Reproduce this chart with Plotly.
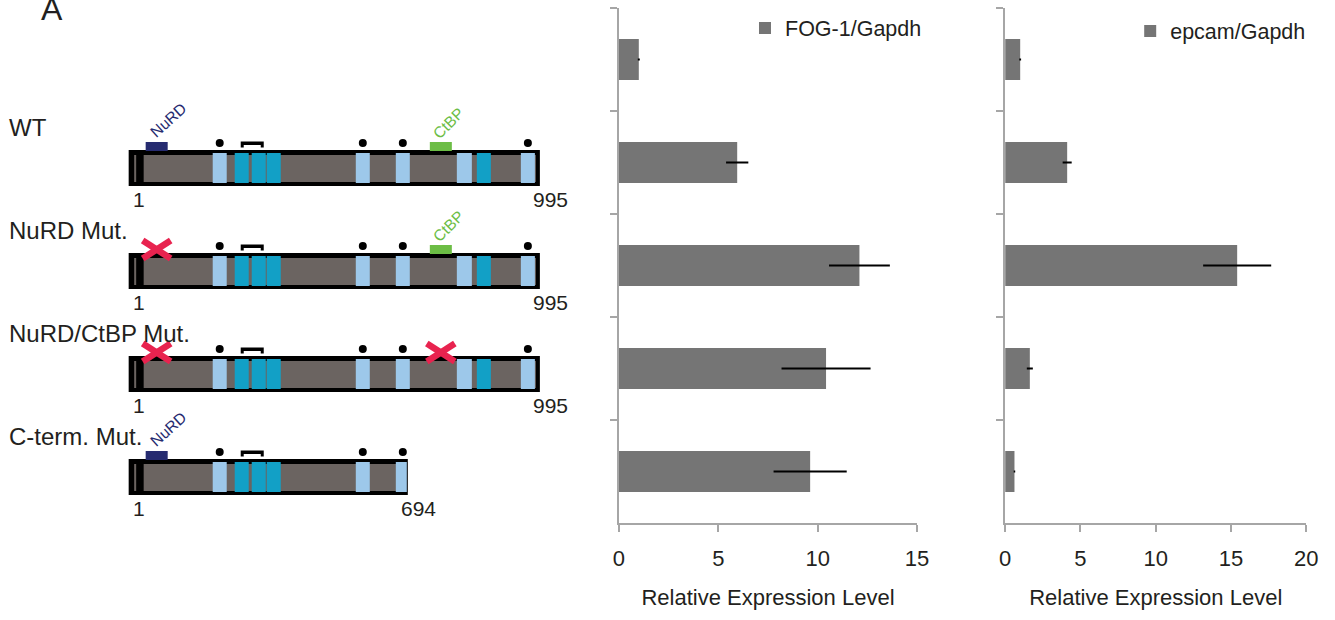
import plotly.graph_objects as go

# ---- expression measurements (mean relative to Gapdh, error = SD) ----
samples = ["Control", "WT", "NuRD Mut.", "NuRD/CtBP Mut.", "C-term. Mut."]
fog1_mean = [1.0, 5.95, 12.1, 10.42, 9.62]
fog1_err = [0.05, 0.56, 1.53, 2.24, 1.84]
epcam_mean = [1.0, 4.12, 15.41, 1.64, 0.62]
epcam_err = [0.06, 0.30, 2.26, 0.20, 0.05]
fog1_ticks = [0, 5, 10, 15]
epcam_ticks = [0, 5, 10, 15, 20]

# ---- construct schematic (schematic units along the protein) ----
constructs = ["WT", "NuRD Mut.", "NuRD/CtBP Mut.", "C-term. Mut."]
construct_length = [995, 995, 995, 694]
construct_end = [536, 536, 536, 406]          # right end of each drawn protein
nurd_state = ["site", "mutated", "mutated", "site"]
ctbp_state = ["site", "site", "mutated", None]
light_fingers = [(213, 227), (356, 370), (396, 410), (457, 472), (521, 535)]
dark_fingers = [(235, 249), (252, 266), (267, 281), (477, 491)]
finger_dots = [220, 363, 403, 528]
bracket_span = (241, 264)
nurd_box = (146, 168)
ctbp_box = (430, 452)

W, H = 1335, 620
# horizontal drawing frame of the page (left offset, usable width)
FRAME_X0, FRAME_W = 6.4, 1316.3

def fx(px):
    """Paper fraction for a horizontal page position."""
    return (px - FRAME_X0) / FRAME_W

FONT = "Liberation Sans, Arial, sans-serif"
TEXT = "#231f20"
AXIS_GREY = "#a6a6a6"
BAR_GREY = "#757575"
PROTEIN_GREY = "#6b6461"
LIGHT_BLUE = "#9dc8ea"
DARK_BLUE = "#12a0c6"
NAVY = "#262b70"
GREEN = "#6cbd45"
RED = "#e8234f"

fig = go.Figure()

# ---- bar charts ----
fig.add_trace(go.Bar(
    y=samples, x=fog1_mean, orientation="h", name="FOG-1/Gapdh",
    marker=dict(color=BAR_GREY, line=dict(width=0)),
    error_x=dict(type="data", array=fog1_err, color="black", thickness=2, width=0),
    xaxis="x", yaxis="y", legend="legend", hoverinfo="x",
))
fig.add_trace(go.Bar(
    y=samples, x=epcam_mean, orientation="h", name="epcam/Gapdh",
    marker=dict(color=BAR_GREY, line=dict(width=0)),
    error_x=dict(type="data", array=epcam_err, color="black", thickness=2, width=0),
    xaxis="x2", yaxis="y2", legend="legend2", hoverinfo="x",
))

plot_top, plot_bottom = 8, 523
ydom = [1 - plot_bottom / H, 1 - plot_top / H]

def value_axis(x0, x1, rng, ticks):
    return dict(
        domain=[fx(x0), fx(x1)], range=rng, tickvals=ticks,
        ticks="outside", ticklen=7, tickwidth=2, tickcolor=AXIS_GREY,
        showline=True, linecolor=AXIS_GREY, linewidth=2,
        showgrid=False, zeroline=False, ticklabelstandoff=8,
        tickfont=dict(size=22, color=TEXT, family=FONT),
        title=dict(text="Relative Expression Level",
                   font=dict(size=22, color=TEXT, family=FONT), standoff=19),
    )

def category_axis(anchor):
    return dict(
        domain=ydom, type="category", autorange="reversed",
        tickson="boundaries", ticks="outside", ticklen=7, tickwidth=2,
        tickcolor=AXIS_GREY, showline=True, linecolor=AXIS_GREY, linewidth=2,
        showticklabels=False, showgrid=False, anchor=anchor,
    )

# ---- schematic drawn on a full-frame overlay axis ----
shapes = []
annotations = []
dot_x, dot_y = [], []

def rect(x0, x1, y0, y1, color):
    shapes.append(dict(type="rect", xref="x3", yref="y3", x0=x0, x1=x1,
                       y0=y0, y1=y1, fillcolor=color, line=dict(width=0),
                       layer="above"))

def cross(cx, cy):
    for sgn in (1, -1):
        shapes.append(dict(type="line", xref="x3", yref="y3",
                           x0=cx - 14, x1=cx + 14, y0=cy - 9 * sgn, y1=cy + 9 * sgn,
                           line=dict(color=RED, width=6.5)))

for i, name in enumerate(constructs):
    top = 150 + 103 * i
    end = construct_end[i]
    right = end + 4 if construct_length[i] == 995 else end + 2
    # protein body with black frame
    rect(129, right, top, top + 36, "black")
    rect(144, end, top + 5, top + 32, PROTEIN_GREY)
    rect(134.5, 136.5, top + 5, top + 32, PROTEIN_GREY)
    for a, b in light_fingers:
        if a < end:
            rect(a, min(b, end + 1), top + 3, top + 33, LIGHT_BLUE)
    for a, b in dark_fingers:
        if a < end:
            rect(a, min(b, end + 1), top + 3, top + 33, DARK_BLUE)
    for d in finger_dots:
        if d < end:
            dot_x.append(d)
            dot_y.append(top - 7)
    # bracket over the paired fingers
    bx0, bx1 = bracket_span
    rect(bx0, bx1, top - 8.5, top - 5, "black")
    rect(bx0, bx0 + 3, top - 5, top - 2.5, "black")
    rect(bx1 - 3, bx1, top - 5, top - 2.5, "black")
    # binding motifs
    if nurd_state[i] == "site":
        rect(nurd_box[0], nurd_box[1], top - 8, top + 1, NAVY)
        annotations.append(dict(xref="x3", yref="y3", x=168, y=top - 30,
                                text="NuRD", textangle=-42, showarrow=False,
                                font=dict(size=15.5, color=NAVY, family=FONT)))
    elif nurd_state[i] == "mutated":
        cross((nurd_box[0] + nurd_box[1]) / 2, top - 3.5)
    if ctbp_state[i] == "site":
        rect(ctbp_box[0], ctbp_box[1], top - 8, top + 1, GREEN)
        annotations.append(dict(xref="x3", yref="y3", x=448, y=top - 27,
                                text="CtBP", textangle=-45, showarrow=False,
                                font=dict(size=15.5, color=GREEN, family=FONT)))
    elif ctbp_state[i] == "mutated":
        cross((ctbp_box[0] + ctbp_box[1]) / 2, top - 3.5)
    # labels
    annotations.append(dict(xref="x3", yref="y3", x=7, y=top - 23, xanchor="left",
                            text=name, showarrow=False,
                            font=dict(size=24, color=TEXT, family=FONT)))
    annotations.append(dict(xref="x3", yref="y3", x=139, y=top + 49,
                            text="1", showarrow=False,
                            font=dict(size=21, color=TEXT, family=FONT)))
    annotations.append(dict(xref="x3", yref="y3", x=right + 11, y=top + 49,
                            text=str(construct_length[i]), showarrow=False,
                            font=dict(size=21, color=TEXT, family=FONT)))

annotations.append(dict(xref="x3", yref="y3", x=39, y=29, xanchor="left",
                        yanchor="bottom", text="A", showarrow=False,
                        font=dict(size=32, color=TEXT, family=FONT)))

fig.add_trace(go.Scatter(x=dot_x, y=dot_y, mode="markers", xaxis="x3", yaxis="y3",
                         marker=dict(color="black", size=8), showlegend=False,
                         hoverinfo="skip"))

hidden = dict(visible=False, showgrid=False, zeroline=False, fixedrange=True)

fig.update_layout(
    width=W, height=H,
    margin=dict(l=0, r=0, t=0, b=0),
    paper_bgcolor="white", plot_bgcolor="rgba(0,0,0,0)",
    bargap=0.6,
    font=dict(family=FONT, color=TEXT),
    xaxis=value_axis(619, 917, [0, 15], fog1_ticks) | dict(anchor="y"),
    yaxis=category_axis("x"),
    xaxis2=value_axis(1005, 1306, [0, 20], epcam_ticks) | dict(anchor="y2"),
    yaxis2=category_axis("x2"),
    xaxis3=dict(domain=[0, 1], range=[FRAME_X0, FRAME_X0 + FRAME_W], anchor="y3", **hidden),
    yaxis3=dict(domain=[0, 1], range=[H, 0], anchor="x3", **hidden),
    legend=dict(x=fx(745), y=1 - 28 / H, xanchor="left", yanchor="middle",
                bgcolor="rgba(0,0,0,0)", font=dict(size=21.5, color=TEXT, family=FONT),
                itemwidth=30),
    legend2=dict(x=fx(1130), y=1 - 31 / H, xanchor="left", yanchor="middle",
                 bgcolor="rgba(0,0,0,0)", font=dict(size=21.5, color=TEXT, family=FONT),
                 itemwidth=30),
    shapes=shapes,
    annotations=annotations,
    showlegend=True,
)

fig.write_html("out.html")
